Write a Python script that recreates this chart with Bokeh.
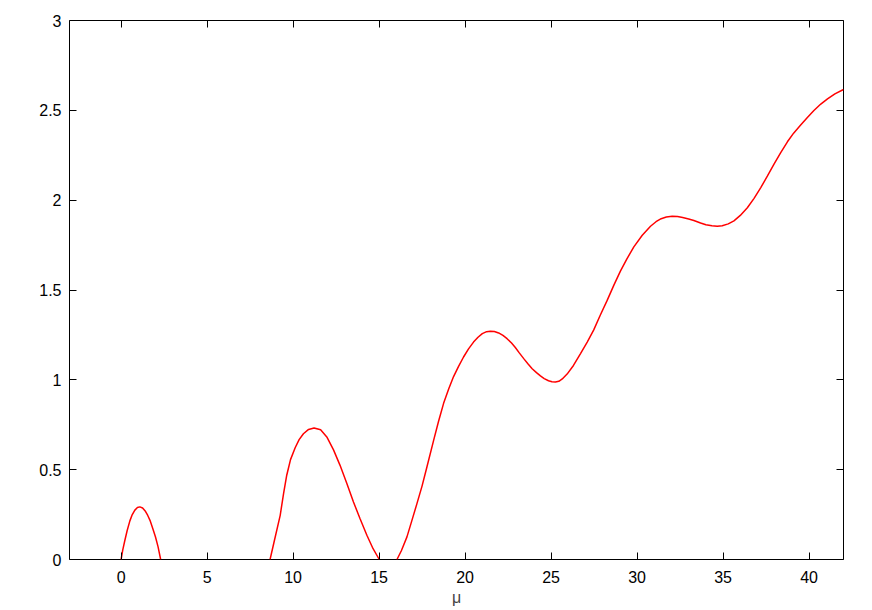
from bokeh.plotting import figure
from bokeh.models import Range1d, LinearAxis, FixedTicker
from bokeh.embed import file_html
from bokeh.resources import INLINE

mu1 = [0.0, 0.1, 0.22, 0.35, 0.51, 0.65, 0.8, 0.95, 1.09, 1.25, 1.4, 1.55, 1.68, 1.85, 2.0, 2.15, 2.3]
f1 = [0.0, 0.055, 0.107, 0.16, 0.215, 0.25, 0.275, 0.289, 0.293, 0.287, 0.27, 0.245, 0.218, 0.17,
      0.125, 0.07, 0.0]

mu2 = [8.66, 8.9, 9.25, 9.45, 9.63, 9.85, 10.12, 10.35, 10.6, 10.9, 11.22, 11.6, 11.96, 12.35,
       12.73, 13.12, 13.51, 13.9, 14.29, 14.65, 15.01]
f2 = [0.0, 0.1, 0.246, 0.37, 0.469, 0.556, 0.622, 0.667, 0.70, 0.724, 0.732, 0.722, 0.682, 0.61,
      0.524, 0.425, 0.32, 0.225, 0.135, 0.06, 0.0]

mu3 = [16.04, 16.3, 16.62, 16.9, 17.2, 17.5, 17.78, 18.17, 18.45, 18.75, 19.05, 19.33, 19.62,
       19.91, 20.2, 20.49, 20.75, 21.0, 21.25, 21.47, 21.7, 21.95, 22.2, 22.44, 22.7, 22.92,
       23.15, 23.41, 23.65, 23.9, 24.15, 24.38, 24.6, 24.85, 25.05, 25.25, 25.45, 25.65, 25.93,
       26.3, 26.71, 27.1, 27.48, 27.85, 28.26, 28.65, 29.03, 29.4, 29.81, 30.3, 30.78, 31.1,
       31.4, 31.7, 32.04, 32.35, 32.65, 33.0, 33.3, 33.69, 34.0, 34.35, 34.66, 34.95, 35.3,
       35.63, 36.0, 36.41, 36.8, 37.19, 37.58, 37.96, 38.35, 38.74, 39.1, 39.51, 39.9, 40.28,
       40.68, 41.07, 41.5, 42.0]
f3 = [0.0, 0.05, 0.126, 0.215, 0.311, 0.41, 0.515, 0.663, 0.767, 0.869, 0.950, 1.018, 1.075,
      1.127, 1.172, 1.21, 1.237, 1.257, 1.268, 1.271, 1.269, 1.261, 1.247, 1.229, 1.205, 1.18,
      1.15, 1.118, 1.09, 1.062, 1.04, 1.022, 1.007, 0.995, 0.989, 0.988, 0.992, 1.005, 1.032,
      1.08, 1.146, 1.21, 1.278, 1.358, 1.442, 1.527, 1.605, 1.672, 1.74, 1.805, 1.855, 1.880,
      1.897, 1.906, 1.911, 1.909, 1.904, 1.895, 1.887, 1.873, 1.863, 1.857, 1.855, 1.858, 1.868,
      1.885, 1.915, 1.958, 2.01, 2.07, 2.135, 2.2, 2.265, 2.325, 2.373, 2.418, 2.46, 2.499,
      2.535, 2.564, 2.592, 2.616]

x_ticks = [0, 5, 10, 15, 20, 25, 30, 35, 40]
y_ticks = [0, 0.5, 1, 1.5, 2, 2.5, 3]

FONT = "Liberation Sans"

p = figure(width=872, height=610, output_backend="svg", toolbar_location=None,
           x_range=Range1d(-3, 42), y_range=Range1d(0, 3),
           min_border_left=69, min_border_right=29, min_border_top=20, min_border_bottom=51,
           x_axis_location=None, y_axis_location=None)
p.grid.visible = False
p.outline_line_color = "black"
p.outline_line_width = 1
p.background_fill_color = "white"
p.border_fill_color = "white"


def style(ax, labels=True):
    ax.major_tick_in = 7
    ax.major_tick_out = 0
    ax.minor_tick_line_color = None
    ax.axis_line_color = None
    ax.major_tick_line_color = "black"
    ax.major_tick_line_width = 1
    ax.major_label_text_font = FONT
    ax.major_label_text_font_size = "16px"
    ax.major_label_text_color = "black"
    if not labels:
        ax.major_label_overrides = {t: "" for t in ax.ticker.ticks}
        ax.major_label_standoff = 0


bottom = LinearAxis(ticker=FixedTicker(ticks=x_ticks), axis_label="μ")
style(bottom)
bottom.major_label_standoff = 11
bottom.axis_label_text_font = FONT
bottom.axis_label_text_font_size = "16px"
bottom.axis_label_text_font_style = "normal"
bottom.axis_label_standoff = 3
p.add_layout(bottom, "below")

top = LinearAxis(ticker=FixedTicker(ticks=x_ticks))
style(top, labels=False)
p.add_layout(top, "above")

left = LinearAxis(ticker=FixedTicker(ticks=y_ticks))
style(left)
left.major_label_standoff = 8
left.major_label_overrides = {0: "0", 1: "1", 2: "2", 3: "3"}
p.add_layout(left, "left")

right = LinearAxis(ticker=FixedTicker(ticks=y_ticks))
style(right, labels=False)
p.add_layout(right, "right")

for xs, ys in [(mu1, f1), (mu2, f2), (mu3, f3)]:
    p.line(xs, ys, line_color="#ff0000", line_width=1.5)

open("out.html", "w").write(file_html(p, INLINE))
